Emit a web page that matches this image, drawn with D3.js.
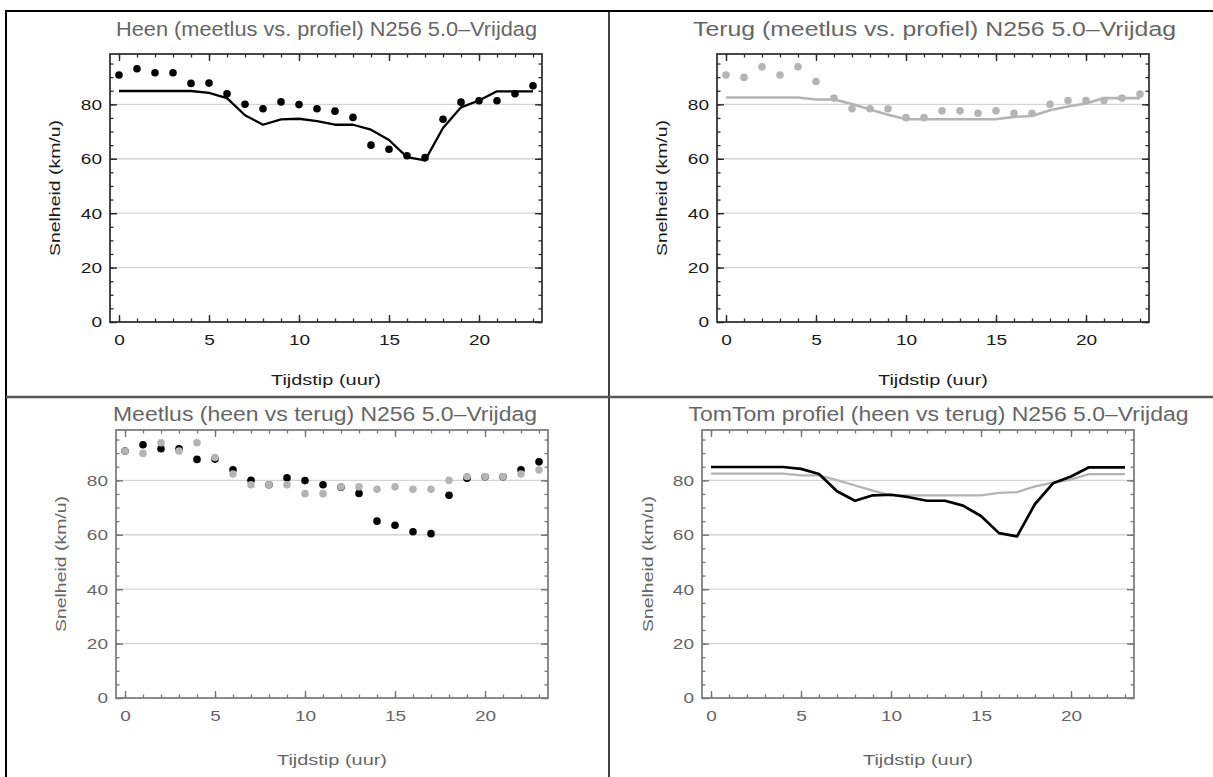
<!DOCTYPE html>
<html>
<head>
<meta charset="utf-8">
<script src="https://cdn.jsdelivr.net/npm/d3@7"></script>
<style>
  body { margin: 0; background: #fff; }
  svg { display: block; font-family: "Liberation Sans", Arial, sans-serif; }
</style>
</head>
<body>
<div id="chart"></div>
<script>
// uur van de dag
const hours = [0, 1, 2, 3, 4, 5, 6, 7, 8, 9, 10, 11, 12, 13, 14, 15, 16, 17, 18, 19, 20, 21, 22, 23];

// meetlus (punten)
const heenMeetlus = [90.8, 93.1, 91.6, 91.6, 87.7, 87.8, 83.9, 80.0, 78.4, 80.9, 79.9, 78.4,
                     77.5, 75.2, 65.0, 63.5, 61.1, 60.4, 74.5, 80.8, 81.3, 81.3, 83.9, 86.8];
const terugMeetlus = [90.8, 89.9, 93.8, 90.8, 93.8, 88.4, 82.3, 78.4, 78.4, 78.4, 75.1, 75.1,
                      77.6, 77.6, 76.7, 77.6, 76.7, 76.7, 80.0, 81.4, 81.4, 81.4, 82.3, 83.8];

// TomTom profiel (lijnen)
const heenProfiel = [84.9, 84.9, 84.9, 84.9, 84.9, 84.2, 82.3, 76.0, 72.5, 74.5, 74.7, 73.8,
                     72.5, 72.5, 70.7, 66.9, 60.6, 59.4, 71.3, 78.9, 81.4, 84.8, 84.8, 84.8];
const terugProfiel = [82.5, 82.5, 82.5, 82.5, 82.5, 81.8, 81.8, 80.1, 78.1, 76.2, 74.5, 74.5,
                      74.5, 74.5, 74.5, 74.5, 75.4, 75.7, 77.8, 79.2, 80.3, 82.3, 82.3, 82.3];

const xTicks = [0, 5, 10, 15, 20];
const xMinor = hours;
const yTicks = [0, 20, 40, 60, 80];
const yMinor = [0, 5, 10, 15, 20, 25, 30, 35, 40, 45, 50, 55, 60, 65, 70, 75, 80, 85, 90, 95];

const BLACK = "#000";
const GREY = "#b4b4b4";

const W = 1213, H = 777;
const svg = d3.select("#chart").append("svg").attr("width", W).attr("height", H);

// panel borders
const border = svg.append("g");
border.append("line").attr("x1", 6).attr("x2", W).attr("y1", 11).attr("y2", 11)
  .attr("stroke", "#000").attr("stroke-width", 2.2);
border.append("line").attr("x1", 6).attr("x2", 6).attr("y1", 10).attr("y2", H)
  .attr("stroke", "#000").attr("stroke-width", 2);
border.append("line").attr("x1", 609).attr("x2", 609).attr("y1", 10).attr("y2", H)
  .attr("stroke", "#000").attr("stroke-width", 1.5);
border.append("line").attr("x1", 6).attr("x2", W).attr("y1", 397).attr("y2", 397)
  .attr("stroke", "#555").attr("stroke-width", 2.5);

const panels = [
  { title: "Heen (meetlus vs. profiel) N256 5.0\u2013Vrijdag", titleX: 326.5, titleLen: 421, titleY: 36,
    left: 110, top: 54, labelColor: "#1a1a1a", frame: "#2a2a2a", ylabX: 55, xlabOff: 63,
    lines: [{ values: heenProfiel, color: BLACK, width: 2.3 }],
    dots: [{ values: heenMeetlus, color: BLACK }] },
  { title: "Terug (meetlus vs. profiel) N256 5.0\u2013Vrijdag", titleX: 934.5, titleLen: 483, titleY: 36,
    left: 717, top: 54, labelColor: "#1a1a1a", frame: "#2a2a2a", ylabX: 662, xlabOff: 63,
    lines: [{ values: terugProfiel, color: GREY, width: 2.6 }],
    dots: [{ values: terugMeetlus, color: GREY }] },
  { title: "Meetlus (heen vs terug) N256 5.0\u2013Vrijdag", titleX: 325, titleLen: 424, titleY: 421,
    left: 116, top: 430, labelColor: "#666", frame: "#777", ylabX: 61, xlabOff: 67,
    lines: [],
    dots: [{ values: heenMeetlus, color: BLACK }, { values: terugMeetlus, color: GREY }] },
  { title: "TomTom profiel (heen vs terug) N256 5.0\u2013Vrijdag", titleX: 938.5, titleLen: 500, titleY: 421,
    left: 702, top: 430, labelColor: "#666", frame: "#777", ylabX: 648, xlabOff: 67,
    lines: [{ values: terugProfiel, color: GREY, width: 2.3 }, { values: heenProfiel, color: BLACK, width: 2.7 }],
    dots: [] }
];

const pw = 432, ph = 268;

for (let p of panels) {
  const g = svg.append("g");
  const x = d3.scaleLinear([-0.5, 23.5], [p.left, p.left + pw]);
  const y = d3.scaleLinear([0, 98.5], [p.top + ph, p.top]);

  // grid
  g.selectAll(".grid").data(yTicks.slice(1)).enter().append("line")
    .attr("x1", p.left).attr("x2", p.left + pw)
    .attr("y1", d => y(d)).attr("y2", d => y(d))
    .attr("stroke", "#d4d4d4").attr("stroke-width", 1.4);

  // ticks on all four sides, pointing inward
  const axes = [
    { ax: () => d3.axisBottom(x), tr: `translate(0,${p.top + ph})`, major: xTicks, minor: xMinor, labels: true, pad: 12 },
    { ax: () => d3.axisTop(x), tr: `translate(0,${p.top})`, major: xTicks, minor: xMinor, labels: false, pad: 8 },
    { ax: () => d3.axisLeft(y), tr: `translate(${p.left},0)`, major: yTicks, minor: yMinor, labels: true, pad: 8 },
    { ax: () => d3.axisRight(y), tr: `translate(${p.left + pw},0)`, major: yTicks, minor: yMinor, labels: false, pad: 8 }
  ];
  for (let a of axes) {
    const minorG = g.append("g").attr("transform", a.tr)
      .call(a.ax().tickValues(a.minor).tickSizeInner(-3.5).tickSizeOuter(0).tickFormat(() => ""));
    minorG.select(".domain").remove();
    minorG.selectAll(".tick line").attr("stroke", p.frame).attr("stroke-width", 1.3);
    const majorG = g.append("g").attr("transform", a.tr)
      .call(a.ax().tickValues(a.major).tickSizeInner(-7).tickSizeOuter(0).tickPadding(a.pad)
        .tickFormat(a.labels ? d3.format("d") : () => ""));
    majorG.select(".domain").remove();
    majorG.selectAll(".tick line").attr("stroke", p.frame).attr("stroke-width", 1.4);
    majorG.selectAll(".tick text").attr("fill", p.labelColor).attr("font-size", 15.5)
      .attr("font-family", "Liberation Sans, Arial, sans-serif")
      .attr("textLength", d => String(d).length * 10.6).attr("lengthAdjust", "spacingAndGlyphs");
  }

  // frame
  g.append("rect").attr("x", p.left).attr("y", p.top).attr("width", pw).attr("height", ph)
    .attr("fill", "none").attr("stroke", p.frame).attr("stroke-width", 1.7);

  // lines
  const line = d3.line().x((d, i) => x(hours[i])).y(d => y(d));
  for (let l of p.lines) {
    g.append("path").datum(l.values).attr("d", line)
      .attr("fill", "none").attr("stroke", l.color).attr("stroke-width", l.width)
      .attr("stroke-linejoin", "round");
  }

  // dots
  for (let s of p.dots) {
    g.append("g").selectAll("circle").data(s.values).enter().append("circle")
      .attr("cx", (d, i) => x(hours[i])).attr("cy", d => y(d)).attr("r", 3.8)
      .attr("fill", s.color);
  }

  // titles
  g.append("text").attr("x", p.titleX).attr("y", p.titleY)
    .attr("text-anchor", "middle").attr("font-size", 20).attr("fill", "#666")
    .attr("textLength", p.titleLen).attr("lengthAdjust", "spacingAndGlyphs")
    .text(p.title);
  g.append("text").attr("x", p.left + pw / 2).attr("y", p.top + ph + p.xlabOff)
    .attr("text-anchor", "middle").attr("font-size", 15.5).attr("fill", p.labelColor)
    .attr("textLength", 110).attr("lengthAdjust", "spacingAndGlyphs")
    .text("Tijdstip (uur)");
  g.append("text").attr("transform", `translate(${p.ylabX},${p.top + ph / 2}) rotate(-90)`)
    .attr("text-anchor", "middle").attr("dy", "0.35em").attr("font-size", 15.5).attr("fill", p.labelColor)
    .attr("textLength", 136).attr("lengthAdjust", "spacingAndGlyphs")
    .text("Snelheid (km/u)");
}
</script>
</body>
</html>
